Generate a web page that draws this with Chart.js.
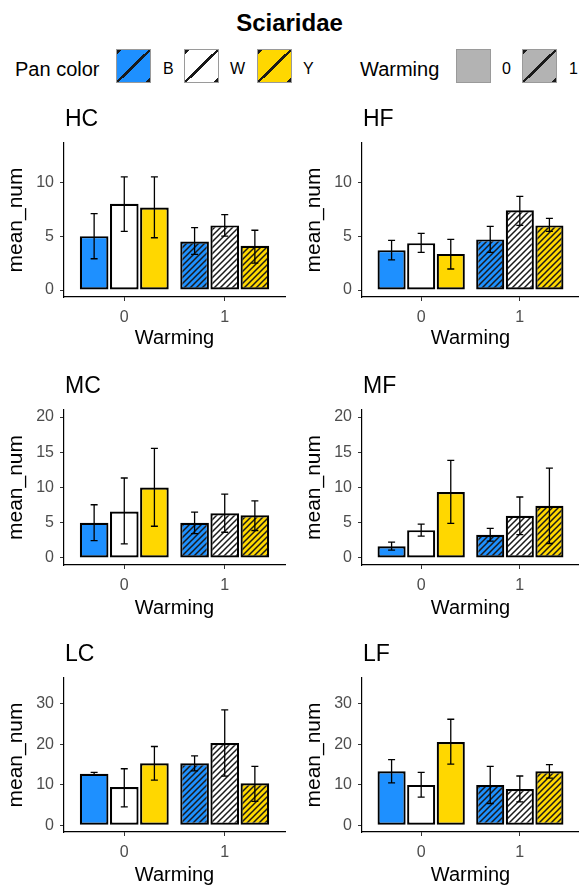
<!DOCTYPE html>
<html>
<head>
<meta charset="utf-8">
<script src="https://cdn.jsdelivr.net/npm/chart.js@4.4.1/dist/chart.umd.min.js"></script>
<style>
  html, body { margin: 0; padding: 0; background: #fff; }
  body {
    width: 579px; height: 887px; position: relative; overflow: hidden;
    font-family: "Liberation Sans", Arial, sans-serif;
  }
  canvas { position: absolute; }
  .t { position: absolute; white-space: nowrap; color: #000; line-height: 1; }
  .key {
    position: absolute; top: 49px; width: 35px; height: 34px;
    box-sizing: border-box; border: 1px solid #9a9a9a;
  }
  .hatched {
    background-image: linear-gradient(to bottom right,
      #1a1a1a 0 3px, transparent 3px calc(50% - 1.3px),
      #1a1a1a calc(50% - 1.3px) calc(50% + 1.3px),
      transparent calc(50% + 1.3px) calc(100% - 3px), #1a1a1a calc(100% - 3px));
  }
</style>
</head>
<body>

<div class="t" style="left:0;width:579px;text-align:center;top:11px;font-size:24px;font-weight:bold;">Sciaridae</div>

<div class="t" style="left:15px;top:59px;font-size:20px;">Pan color</div>
<div class="key hatched" style="left:116px;background-color:#1E90FF;"></div>
<div class="t" style="left:163px;top:61px;font-size:16px;">B</div>
<div class="key hatched" style="left:184px;background-color:#FFFFFF;"></div>
<div class="t" style="left:230px;top:61px;font-size:16px;">W</div>
<div class="key hatched" style="left:257px;background-color:#FFD700;"></div>
<div class="t" style="left:303px;top:61px;font-size:16px;">Y</div>

<div class="t" style="left:360px;top:59px;font-size:20px;">Warming</div>
<div class="key" style="left:456px;background-color:#B3B3B3;"></div>
<div class="t" style="left:502px;top:61px;font-size:16px;">0</div>
<div class="key hatched" style="left:522px;background-color:#B3B3B3;"></div>
<div class="t" style="left:569px;top:61px;font-size:16px;">1</div>

<canvas id="HC" width="290" height="260" style="left:0;top:100px"></canvas>
<canvas id="HF" width="281" height="260" style="left:298px;top:100px"></canvas>
<canvas id="MC" width="290" height="262" style="left:0;top:360px"></canvas>
<canvas id="MF" width="281" height="262" style="left:298px;top:360px"></canvas>
<canvas id="LC" width="290" height="255" style="left:0;top:632px"></canvas>
<canvas id="LF" width="281" height="255" style="left:298px;top:632px"></canvas>

<script>
const warmingLevels = ["0", "1"];
const warmingX = [0, 1];
const panColors = ["B", "W", "Y"];
const panFill = ["#1E90FF", "#FFFFFF", "#FFD700"];

// mean_num and error bar ends; rows = pan colour B/W/Y, columns = warming 0/1
const hcMean = [[5.0, 4.5], [8.0, 6.0], [7.65, 4.1]];
const hcLow  = [[2.9, 3.3], [5.45, 5.0], [4.85, 2.5]];
const hcHigh = [[7.1, 5.8], [10.5, 7.0], [10.5, 5.55]];

const hfMean = [[3.7, 4.7], [4.35, 7.4], [3.35, 6.0]];
const hfLow  = [[2.8, 3.5], [3.5, 6.0], [1.95, 5.45]];
const hfHigh = [[4.6, 5.9], [5.25, 8.7], [4.7, 6.65]];

const mcMean = [[5.0, 5.0], [6.6, 6.35], [10.0, 6.05]];
const mcLow  = [[2.45, 3.45], [2.0, 3.65], [4.5, 3.9]];
const mcHigh = [[7.55, 6.5], [11.35, 9.05], [15.55, 8.1]];

const mfMean = [[1.65, 3.3], [3.95, 6.0], [9.35, 7.4]];
const mfLow  = [[1.1, 2.4], [3.1, 3.3], [4.9, 2.05]];
const mfHigh = [[2.25, 4.2], [4.8, 8.65], [13.85, 12.75]];

const lcMean = [[12.7, 15.3], [9.45, 20.3], [15.3, 10.35]];
const lcLow  = [[12.45, 13.4], [4.5, 12.1], [11.15, 5.9]];
const lcHigh = [[13.05, 17.15], [13.95, 28.5], [19.45, 14.55]];

const lfMean = [[13.3, 9.95], [9.95, 8.95], [20.55, 13.3]];
const lfLow  = [[10.45, 5.35], [6.95, 5.75], [15.1, 11.65]];
const lfHigh = [[16.2, 14.55], [13.05, 12.15], [26.2, 14.95]];

const yTicksH = [0, 5, 10];
const yTicksM = [0, 5, 10, 15, 20];
const yTicksL = [0, 10, 20, 30];

const FONT = '"Liberation Sans", Arial, sans-serif';

/* diagonal stripes for the warmed bars */
function hatch(ctx, color) {
  const s = 6;
  const c = document.createElement("canvas");
  c.width = s; c.height = s;
  const g = c.getContext("2d");
  g.fillStyle = color;
  g.fillRect(0, 0, s, s);
  g.strokeStyle = "#1a1a1a";
  g.lineWidth = 1.5;
  g.beginPath();
  g.moveTo(-1, s + 1); g.lineTo(s + 1, -1);
  g.moveTo(-1, 1); g.lineTo(1, -1);
  g.moveTo(s - 1, s + 1); g.lineTo(s + 1, s - 1);
  g.stroke();
  return ctx.createPattern(c, "repeat");
}

const errorBars = {
  id: "errorBars",
  afterDatasetsDraw(chart) {
    const { ctx } = chart;
    const y = chart.scales.y;
    ctx.save();
    ctx.strokeStyle = "#000";
    ctx.lineWidth = 1.3;
    chart.data.datasets.forEach((ds, i) => {
      chart.getDatasetMeta(i).data.forEach((bar, j) => {
        const top = y.getPixelForValue(ds.errHigh[j]);
        const bot = y.getPixelForValue(ds.errLow[j]);
        ctx.beginPath();
        ctx.moveTo(bar.x, top); ctx.lineTo(bar.x, bot);
        ctx.moveTo(bar.x - 3.5, top); ctx.lineTo(bar.x + 3.5, top);
        ctx.moveTo(bar.x - 3.5, bot); ctx.lineTo(bar.x + 3.5, bot);
        ctx.stroke();
      });
    });
    ctx.restore();
  }
};

const panelTitle = {
  id: "panelTitle",
  afterDraw(chart, args, opts) {
    const { ctx, chartArea } = chart;
    ctx.save();
    ctx.fillStyle = "#000";
    ctx.font = "23px " + FONT;
    ctx.textAlign = "left";
    ctx.textBaseline = "middle";
    ctx.fillText(opts.text, chartArea.left + 1, chartArea.top - 23);
    ctx.restore();
  }
};

function panel(id, mean, low, high, yMin, yMax, yTicks, padTop, padBottom, padRight, xHeight) {
  const canvas = document.getElementById(id);
  const ctx = canvas.getContext("2d");

  return new Chart(ctx, {
    type: "bar",
    data: {
      datasets: panColors.map((pc, i) => ({
        label: pc,
        data: warmingX.map((x, j) => ({ x, y: mean[i][j] })),
        errLow: low[i],
        errHigh: high[i],
        backgroundColor: [panFill[i], hatch(ctx, panFill[i])],
        borderColor: "#000",
        borderWidth: 2.2,
        borderSkipped: false,
        categoryPercentage: 0.9,
        barPercentage: 0.95
      }))
    },
    options: {
      responsive: false,
      animation: false,
      devicePixelRatio: 1,
      layout: { padding: { top: padTop, bottom: padBottom, left: 0, right: padRight } },
      plugins: {
        legend: { display: false },
        tooltip: { enabled: false },
        panelTitle: { text: id }
      },
      scales: {
        x: {
          type: "linear",
          min: -0.6,
          max: 1.6,
          offset: false,
          afterBuildTicks: s => { s.ticks = warmingX.map(v => ({ value: v })); },
          afterFit: s => { s.height = xHeight; },
          ticks: {
            callback: v => warmingLevels[warmingX.indexOf(v)],
            color: "#4d4d4d",
            font: { size: 16, family: FONT },
            padding: 7,
            maxRotation: 0
          },
          grid: { offset: false, drawOnChartArea: false, drawTicks: true, tickLength: 4, tickColor: "#333" },
          border: { display: true, color: "#000", width: 1.2 },
          title: { display: true, text: "Warming", color: "#000", font: { size: 20, family: FONT }, padding: 0 }
        },
        y: {
          min: yMin,
          max: yMax,
          afterBuildTicks: s => { s.ticks = yTicks.map(v => ({ value: v })); },
          afterFit: s => { s.width = 64; },
          ticks: {
            color: "#4d4d4d",
            font: { size: 16, family: FONT },
            padding: 6
          },
          grid: { drawOnChartArea: false, drawTicks: true, tickLength: 4, tickColor: "#333" },
          border: { display: true, color: "#000", width: 1.2 },
          title: { display: true, text: "mean_num", color: "#000", font: { size: 21, family: FONT }, padding: { top: 4, bottom: 0 } }
        }
      }
    },
    plugins: [errorBars, panelTitle]
  });
}

panel("HC", hcMean, hcLow, hcHigh, -0.65, 13.65, yTicksH, 43, 10, 5, 53);
panel("HF", hfMean, hfLow, hfHigh, -0.65, 13.65, yTicksH, 43, 10, 0, 53);
panel("MC", mcMean, mcLow, mcHigh, -1, 21, yTicksM, 50, 2, 5, 55);
panel("MF", mfMean, mfLow, mfHigh, -1, 21, yTicksM, 50, 2, 0, 55);
panel("LC", lcMean, lcLow, lcHigh, -1.7, 36.4, yTicksL, 46, 0, 5, 55);
panel("LF", lfMean, lfLow, lfHigh, -1.7, 36.4, yTicksL, 46, 0, 0, 55);
</script>
</body>
</html>
